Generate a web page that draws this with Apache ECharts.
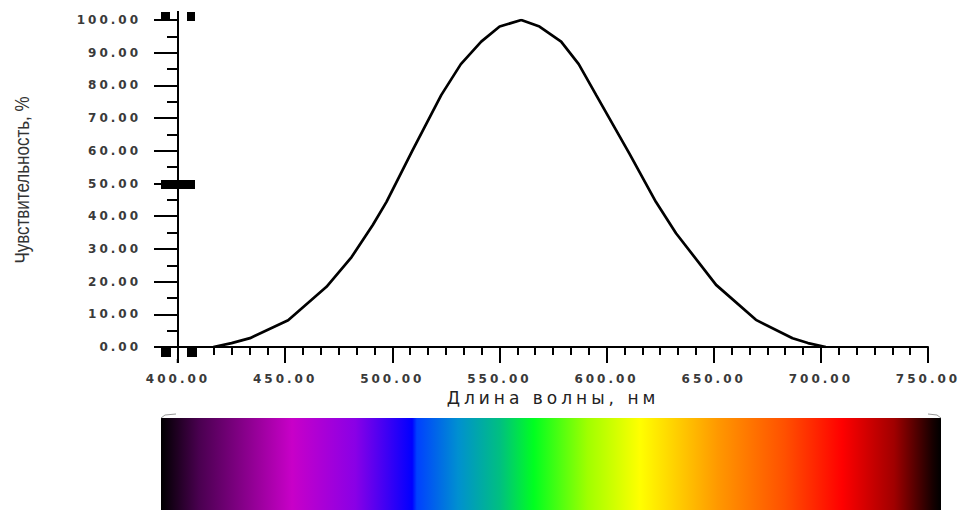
<!DOCTYPE html>
<html>
<head>
<meta charset="utf-8">
<script src="https://cdn.jsdelivr.net/npm/echarts@6/dist/echarts.min.js"></script>
<style>
html,body{margin:0;padding:0;background:#fff;}
#chart{width:961px;height:510px;}
svg text[style*="TickLab"]{letter-spacing:3px;}
svg text[style*="XName"]{letter-spacing:4px;}
</style>
</head>
<body>
<div id="chart"></div>
<script>
// Data
var wavelengths = [416.5, 425, 433.6, 451.4, 469.3, 481, 490.9, 497.3, 509.5, 522.9, 532, 541.5, 550.1, 560.2, 568.7, 578.8, 587, 595.1, 610.6, 623, 632.4, 651.1, 669.7, 686.8, 694, 702.3];
var sensitivity = [0, 1.2, 2.7, 8.2, 18.4, 27.5, 37.3, 44.4, 60.2, 77.1, 86.5, 93.4, 98, 100, 98, 93.4, 86.5, 77.1, 59.2, 44.4, 34.8, 19, 8.3, 2.7, 1.2, 0];
var xTicks = [400, 450, 500, 550, 600, 650, 700, 750];
var yTicks = [0, 10, 20, 30, 40, 50, 60, 70, 80, 90, 100];
var xTitle = 'Длина волны, нм';
var yTitle = 'Чувствительность, %';

var points = wavelengths.map(function (w, i) { return [w, sensitivity[i]]; });

var chart = echarts.init(document.getElementById('chart'), null, { renderer: 'svg' });

var spectrumStops = [
  [0, '#000000'], [0.049, '#4a0050'], [0.168, '#c800c8'], [0.249, '#8a00e6'],
  [0.322, '#0000ff'], [0.328, '#0040ff'], [0.381, '#0090d0'], [0.435, '#00c080'],
  [0.478, '#00ff20'], [0.547, '#a0ff00'], [0.614, '#ffff00'], [0.714, '#ff9800'],
  [0.8, '#ff5000'], [0.873, '#ff0000'], [0.94, '#a00000'], [0.99, '#150000'], [1, '#000000']
];

var tickFont = 'TickLab, "DejaVu Sans"';

chart.setOption({
  animation: false,
  backgroundColor: '#ffffff',
  grid: { left: 178, right: 33, top: 20, bottom: 163, containLabel: false },
  xAxis: {
    type: 'value',
    min: xTicks[0],
    max: xTicks[xTicks.length - 1],
    interval: 50,
    splitLine: { show: false },
    axisLine: { show: true, onZero: false, lineStyle: { color: '#000', width: 2 } },
    axisTick: { show: true, length: 16, lineStyle: { color: '#000', width: 2 } },
    minorTick: { show: true, splitNumber: 6, length: 8, lineStyle: { color: '#000', width: 2 } },
    axisLabel: {
      margin: 26,
      color: '#3a3a3a',
      fontSize: 12,
      fontWeight: 'bold',
      fontFamily: tickFont,
      formatter: function (v) { return v.toFixed(2); }
    },
    name: xTitle,
    nameLocation: 'middle',
    nameGap: 41,
    nameTextStyle: { fontSize: 17, color: '#222', fontFamily: 'XName, "DejaVu Sans"' }
  },
  yAxis: {
    type: 'value',
    min: yTicks[0],
    max: yTicks[yTicks.length - 1],
    interval: 10,
    splitLine: { show: false },
    axisLine: { show: true, lineStyle: { color: '#000', width: 2 } },
    axisTick: { show: true, length: 24, lineStyle: { color: '#000', width: 2 } },
    minorTick: { show: true, splitNumber: 2, length: 11, lineStyle: { color: '#000', width: 2 } },
    axisLabel: {
      margin: 37,
      color: '#3a3a3a',
      fontSize: 12,
      fontWeight: 'bold',
      fontFamily: tickFont,
      formatter: function (v) { return v.toFixed(2); }
    }
  },
  series: [{
    type: 'line',
    data: points,
    showSymbol: false,
    smooth: false,
    lineStyle: { color: '#000', width: 2.7 },
    silent: true
  }],
  graphic: [
    // y-axis title (condensed)
    {
      type: 'text', x: 22, y: 180, rotation: Math.PI / 2, scaleX: 0.85,
      style: { text: yTitle, fontSize: 20, fontFamily: '"Liberation Sans", Arial, sans-serif', fill: '#333', align: 'center', verticalAlign: 'middle' }
    },
    // axis line extension above top
    { type: 'line', shape: { x1: 178, y1: 11, x2: 178, y2: 21 }, style: { stroke: '#000', lineWidth: 2 } },
    // black handle markers
    { type: 'rect', shape: { x: 161, y: 12, width: 9, height: 9 }, style: { fill: '#000' } },
    { type: 'rect', shape: { x: 187, y: 12, width: 8, height: 9 }, style: { fill: '#000' } },
    { type: 'rect', shape: { x: 161, y: 180, width: 34, height: 9 }, style: { fill: '#000' } },
    { type: 'rect', shape: { x: 161, y: 347, width: 10, height: 10 }, style: { fill: '#000' } },
    { type: 'rect', shape: { x: 187, y: 347, width: 10, height: 10 }, style: { fill: '#000' } },
    { type: 'rect', shape: { x: 172, y: 348, width: 12, height: 12 }, style: { fill: '#fff' } },
    { type: 'line', shape: { x1: 177.5, y1: 359, x2: 177.5, y2: 363 }, style: { stroke: '#000', lineWidth: 1.5 } },
    // spectrum bar
    {
      type: 'rect',
      shape: { x: 161, y: 418, width: 780, height: 92 },
      style: {
        fill: {
          type: 'linear', x: 0, y: 0, x2: 1, y2: 0,
          colorStops: spectrumStops.map(function (s) { return { offset: s[0], color: s[1] }; })
        }
      }
    },
    { type: 'polyline', shape: { points: [[161, 418], [165, 415], [176, 414]] }, style: { stroke: '#999', lineWidth: 1, fill: null } },
    { type: 'polyline', shape: { points: [[928, 414], [937, 415], [941, 418]] }, style: { stroke: '#999', lineWidth: 1, fill: null } }
  ]
});
</script>
</body>
</html>
